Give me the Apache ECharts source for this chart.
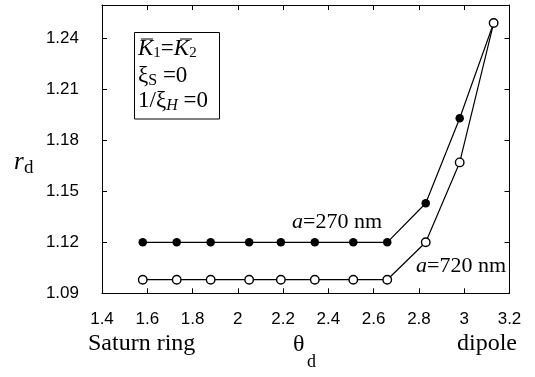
<!DOCTYPE html>
<html>
<head>
<meta charset="utf-8">
<script src="https://cdn.jsdelivr.net/npm/echarts@6/dist/echarts.min.js"></script>
<style>
  html, body { margin: 0; padding: 0; background: #fff; }
  #chart { width: 535px; height: 377px; }
</style>
</head>
<body>
<div id="chart"></div>
<script>
// theta_d values (shared by both curves)
const thetaD = [1.58, 1.73, 1.88, 2.05, 2.19, 2.34, 2.51, 2.66, 2.83, 2.98, 3.13];
// r_d for a = 270 nm (filled circles)
const rd270 = [1.12, 1.12, 1.12, 1.12, 1.12, 1.12, 1.12, 1.12, 1.143, 1.193, 1.249];
// r_d for a = 720 nm (open circles)
const rd720 = [1.098, 1.098, 1.098, 1.098, 1.098, 1.098, 1.098, 1.098, 1.12, 1.167, 1.249];

const SERIF = '"Liberation Serif", "Times New Roman", serif';
const SANS = '"Liberation Sans", Arial, sans-serif';

const chart = echarts.init(document.getElementById('chart'), null, { renderer: 'canvas' });

const pairs = (xs, ys) => xs.map((x, i) => [x, ys[i]]);

const frameAxis = {
  axisLine: { show: true, lineStyle: { color: '#000', width: 1 } },
  axisTick: { show: true, inside: true, length: 5, lineStyle: { color: '#000', width: 1 } },
  splitLine: { show: false }
};

const option = {
  animation: false,
  backgroundColor: '#fff',
  grid: { left: 102, right: 25.5, top: 5, bottom: 83.7 },
  xAxis: [
    Object.assign({
      type: 'value', min: 1.4, max: 3.2, interval: 0.2, position: 'bottom',
      axisLabel: {
        color: '#000', fontFamily: SANS, fontSize: 17, margin: 18,
        formatter: v => String(+v.toFixed(1))
      }
    }, frameAxis),
    Object.assign({
      type: 'value', min: 1.4, max: 3.2, interval: 0.2, position: 'top',
      axisLabel: { show: false }
    }, frameAxis)
  ],
  yAxis: [
    Object.assign({
      type: 'value', min: 1.09, max: 1.2596, interval: 0.03, position: 'left',
      axisLabel: {
        color: '#000', fontFamily: SANS, fontSize: 17, margin: 23,
        showMaxLabel: false, padding: [7, 0, 0, 0],
        formatter: v => v.toFixed(2)
      }
    }, frameAxis),
    Object.assign({
      type: 'value', min: 1.09, max: 1.2596, interval: 0.03, position: 'right',
      axisLabel: { show: false }
    }, frameAxis)
  ],
  series: [
    {
      type: 'line', name: 'a=270 nm', data: pairs(thetaD, rd270),
      symbol: 'circle', symbolSize: 8.5,
      lineStyle: { color: '#000', width: 1.2 },
      itemStyle: { color: '#000', borderColor: '#000', borderWidth: 0 },
      z: 3
    },
    {
      type: 'line', name: 'a=720 nm', data: pairs(thetaD, rd720),
      symbol: 'circle', symbolSize: 8.5,
      lineStyle: { color: '#000', width: 1.2 },
      itemStyle: { color: '#fff', borderColor: '#000', borderWidth: 1.4 },
      z: 4
    }
  ],
  graphic: [
    // y axis title r_d
    { type: 'text', left: 14, top: 150, style: { text: 'r', font: 'italic 25px ' + SERIF, fill: '#000' } },
    { type: 'text', left: 24, top: 159, style: { text: 'd', font: '19px ' + SERIF, fill: '#000' } },
    // bottom captions
    { type: 'text', left: 88, top: 332, style: { text: 'Saturn ring', font: '24px ' + SERIF, fill: '#000' } },
    { type: 'text', left: 293, top: 333, style: { text: 'θ', font: '24px ' + SERIF, fill: '#000' } },
    { type: 'text', left: 307, top: 353, style: { text: 'd', font: '18px ' + SERIF, fill: '#000' } },
    { type: 'text', left: 457, top: 332, style: { text: 'dipole', font: '24px ' + SERIF, fill: '#000' } },
    // curve labels
    {
      type: 'text', left: 292, top: 211,
      style: {
        text: '{i|a}{n|=270 nm}',
        rich: {
          i: { font: 'italic 22px ' + SERIF, fill: '#000' },
          n: { font: '22px ' + SERIF, fill: '#000' }
        }
      }
    },
    {
      type: 'text', left: 416, top: 255,
      style: {
        text: '{i|a}{n|=720 nm}',
        rich: {
          i: { font: 'italic 22px ' + SERIF, fill: '#000' },
          n: { font: '22px ' + SERIF, fill: '#000' }
        }
      }
    },
    // parameter box
    {
      type: 'rect', left: 134, top: 32,
      shape: { width: 85, height: 86.5 },
      style: { fill: '#fff', stroke: '#000', lineWidth: 1 },
      z: 10
    },
    {
      type: 'text', left: 138, top: 37, z: 11,
      style: {
        text: '{i|K}{s|1}{n|=}{i|K}{s|2}',
        rich: {
          i: { font: 'italic 23px ' + SERIF, fill: '#000', lineHeight: 24 },
          n: { font: '23px ' + SERIF, fill: '#000', lineHeight: 24 },
          s: { font: '15px ' + SERIF, fill: '#000', padding: [10, 0, 0, 0] }
        }
      }
    },
    { type: 'line', shape: { x1: 141, y1: 39, x2: 153, y2: 39 }, style: { stroke: '#000', lineWidth: 1 }, z: 11 },
    { type: 'line', shape: { x1: 180, y1: 39, x2: 192, y2: 39 }, style: { stroke: '#000', lineWidth: 1 }, z: 11 },
    {
      type: 'text', left: 138, top: 64, z: 11,
      style: {
        text: '{n|ξ}{s|S}{n| =0}',
        rich: {
          n: { font: '23px ' + SERIF, fill: '#000', lineHeight: 24 },
          s: { font: '16px ' + SERIF, fill: '#000', padding: [10, 0, 0, 0] }
        }
      }
    },
    {
      type: 'text', left: 138, top: 89, z: 11,
      style: {
        text: '{n|1/ξ}{s|H}{n| =0}',
        rich: {
          n: { font: '23px ' + SERIF, fill: '#000', lineHeight: 24 },
          s: { font: 'italic 16px ' + SERIF, fill: '#000', padding: [10, 0, 0, 0] }
        }
      }
    }
  ]
};

chart.setOption(option);
</script>
</body>
</html>
